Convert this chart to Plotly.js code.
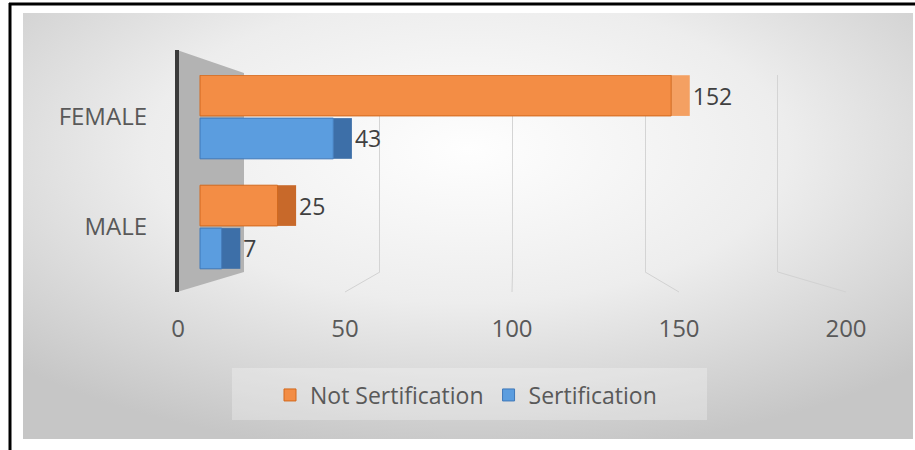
<!DOCTYPE html>
<html>
<head>
<meta charset="utf-8">
<script src="https://cdn.plot.ly/plotly-3.0.1.min.js"></script>
<style>html,body{margin:0;padding:0;background:#fff;}#chart{width:915px;height:450px;}</style>
</head>
<body>
<div id="chart"></div>
<script>
// ---- data ----
const categories = ["FEMALE", "MALE"];
const notSertification = [152, 25];
const sertification = [43, 7];
const seriesNames = ["Not Sertification", "Sertification"];
const tickValues = [0, 50, 100, 150, 200];
const gridValues = [50, 100, 150, 200];

// ---- styling constants ----
const W = 915, H = 450;
const px = x => x / W;
const py = y => 1 - y / H;
const FONT = "Open Sans, Lato, sans-serif";
const DEPTH = 6;                       // 3-D side face depth (value units)
const xDomain = [px(178), px(846)];
const tickRange = [0, 200];            // front scale of tick labels
const barRange = [-7.1, 208.4];        // bar scale (3-D front face)
const gridRange = [-26.1, 225.7];      // back-wall scale
const depthArr = arr => arr.map(() => DEPTH);

const toPx = (v, r) => 178 + (v - r[0]) / (r[1] - r[0]) * (846 - 178);

const bgSvg = "<svg xmlns='http://www.w3.org/2000/svg' width='890' height='426' preserveAspectRatio='none'>" +
  "<defs><radialGradient id='g' cx='0.5' cy='0.32' r='0.72'>" +
  "<stop offset='0' stop-color='#fefefe'/><stop offset='0.5' stop-color='#ededed'/>" +
  "<stop offset='1' stop-color='#c6c6c6'/></radialGradient></defs>" +
  "<rect width='890' height='426' fill='url(#g)'/></svg>";

const common = {type: "bar", orientation: "h", y: categories, xaxis: "x2", yaxis: "y",
  width: 0.37, hoverinfo: "x+name"};

const traces = [
  {type: "scatter", x: [], y: [], xaxis: "x", yaxis: "y", showlegend: false, hoverinfo: "skip"},
  {type: "scatter", x: [], y: [], xaxis: "x3", yaxis: "y", showlegend: false, hoverinfo: "skip"},
  Object.assign({}, common, {
    name: seriesNames[1] + " side", base: sertification, x: depthArr(sertification),
    offset: 0.01, marker: {color: "#3d6fa8"}, showlegend: false,
    text: sertification.map(String), textposition: "outside", cliponaxis: false, constraintext: "none",
    textfont: {family: FONT, size: 23, color: "#404040"}
  }),
  Object.assign({}, common, {
    name: seriesNames[0] + " side", base: notSertification, x: depthArr(notSertification),
    offset: -0.38, marker: {color: ["#f4a062", "#c8692a"]}, showlegend: false,
    text: notSertification.map(String), textposition: "outside", cliponaxis: false, constraintext: "none",
    textfont: {family: FONT, size: 23, color: "#404040"}
  }),
  Object.assign({}, common, {
    name: seriesNames[1], x: sertification, offset: 0.01, legendrank: 2,
    marker: {color: "#5b9ddf", line: {color: "#3f78b8", width: 1}}
  }),
  Object.assign({}, common, {
    name: seriesNames[0], x: notSertification, offset: -0.38, legendrank: 1,
    marker: {color: "#f38d45", line: {color: "#d2691e", width: 1}}
  })
];

const floorShapes = gridValues.map(v => ({
  type: "line", xref: "paper", yref: "paper", layer: "below",
  x0: px(toPx(v, gridRange)), y0: py(272), x1: px(toPx(v, tickRange)), y1: py(292),
  line: {color: "#d2d2d2", width: 1}
}));

const layout = {
  width: W, height: H,
  margin: {l: 0, r: 0, t: 0, b: 0},
  paper_bgcolor: "#ffffff", plot_bgcolor: "rgba(0,0,0,0)",
  barmode: "overlay",
  showlegend: true,
  font: {family: FONT, color: "#595959"},
  xaxis: {domain: xDomain, range: gridRange, anchor: "y", tickvals: gridValues,
    showticklabels: false, showgrid: true, gridcolor: "#d4d4d4", gridwidth: 1,
    zeroline: false, showline: false, ticks: "", fixedrange: true, automargin: false},
  xaxis2: {overlaying: "x", range: barRange, visible: false, fixedrange: true},
  xaxis3: {overlaying: "x", anchor: "free", position: py(312), range: tickRange, tickvals: tickValues,
    side: "bottom", showgrid: false, zeroline: false, showline: false, ticks: "", automargin: false,
    tickfont: {family: FONT, size: 24, color: "#595959"}, fixedrange: true},
  yaxis: {domain: [py(272), py(75)], range: [1.409, -0.382], type: "category", anchor: "x",
    showgrid: false, zeroline: false, showline: false, ticks: "", ticklabelstandoff: 30,
    tickfont: {family: FONT, size: 24, color: "#595959"}, automargin: false, fixedrange: true},
  legend: {orientation: "h", x: px(466), xanchor: "center", y: py(395), yanchor: "middle",
    bgcolor: "rgba(0,0,0,0)", font: {family: FONT, size: 23, color: "#595959"},
    traceorder: "normal", itemclick: false},
  images: [{source: "data:image/svg+xml;charset=utf-8," + encodeURIComponent(bgSvg),
    xref: "paper", yref: "paper", x: px(23), y: py(13), sizex: px(913) - px(23), sizey: py(13) - py(439),
    sizing: "stretch", layer: "below", xanchor: "left", yanchor: "top"}],
  shapes: [
    {type: "rect", xref: "paper", yref: "paper", layer: "below",
      x0: px(232), x1: px(707), y0: py(420), y1: py(368),
      fillcolor: "rgba(255,255,255,0.28)", line: {width: 0}},
    {type: "path", xref: "paper", yref: "paper", layer: "below",
      path: `M${px(177)},${py(50)} L${px(244)},${py(73)} L${px(244)},${py(272)} L${px(177)},${py(292)} Z`,
      fillcolor: "#b3b3b3", line: {width: 0}},
    {type: "line", xref: "paper", yref: "paper", layer: "below",
      x0: px(177), x1: px(177), y0: py(50), y1: py(292), line: {color: "#3a3a3a", width: 4}},
    {type: "line", xref: "paper", yref: "paper", x0: px(9), x1: px(915), y0: py(4), y1: py(4),
      line: {color: "#000", width: 3}},
    {type: "line", xref: "paper", yref: "paper", x0: px(10), x1: px(10), y0: py(3), y1: py(450),
      line: {color: "#000", width: 3}}
  ].concat(floorShapes)
};

Plotly.newPlot("chart", traces, layout, {displayModeBar: false, staticPlot: true});
</script>
</body>
</html>
